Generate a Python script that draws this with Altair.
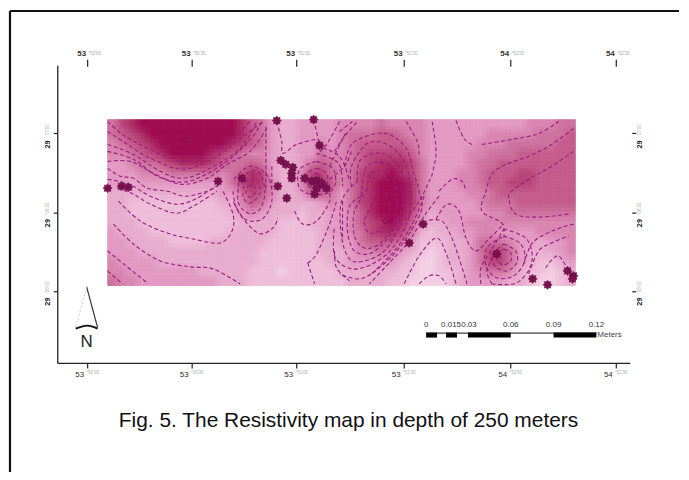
import altair as alt
import pandas as pd

LEVEL_ROWS = [
 "578" "9999999999" "8653" "22" "3333" "4444" "5" "4444" "3333333333" "444" "55",
 "5678" "999999999" "8653" "22" "3333" "4" "555" "66" "5" "44" "333333" "44444" "555" "6",
 "45678" "9999999" "87" "65" "322" "33" "4" "345" "66666" "54" "33333" "444" "55555" "66",
 "445678" "9999" "8765" "44322" "33" "544" "56" "7777" "64" "3333" "44" "555" "666666",
 "334556" "78887" "6556" "53223" "56545" "678887" "53333" "455" "66666666",
 "333444" "55555" "456" "87" "3224" "77545" "788987" "5333" "445" "666" "77" "6666",
 "332" "333333333" "5" "787" "4224" "78645" "789998" "5333" "445" "66" "777" "6666",
 "22222222222" "33" "576" "4223" "66535" "789998" "53333" "445" "66666666",
 "22" "111111111" "22" "465" "32222" "3435" "789998" "533333" "4555" "666666",
 "22" "1111111111" "2343222" "1" "22334" "689997" "4233333" "44" "5555555",
 "222" "1111111111" "2222" "111" "22334" "678986" "32233" "44444444444",
 "3222" "11111111" "22222" "1111" "2334" "578875" "2122" "33" "44" "3333" "4444",
 "332222" "1111" "222222" "11111" "2233" "566653" "111223" "5554" "332334",
 "333" "222222222222" "111111" "2223" "445432" "101223" "5775" "322234",
 "43333" "2222222222" "1111111" "223" "333321" "001223" "5775" "321123",
 "44" "3333333" "22222" "1110" "11111" "222222" "11" "001123" "4554" "211012",
 "544" "33333333" "222" "1111111111" "2222" "11" "0000" "12" "3333" "2210012",
]
MAP_X0, MAP_X1, MAP_Y0, MAP_Y1 = 107.0, 577.0, 118.0, 285.0

CONTOURS = [
 [(345,165),(352,143),(373,133),(390,133),(407,147),(415,173),(420,190),(422,210),(403,243),(380,267),(360,278),(340,273)],
 [(358,180),(360,160),(375,152),(390,155),(402,170),(405,195),(400,225),(385,250),(365,260),(350,258),(342,235),(342,200),(358,180)],
 [(367,190),(372,172),(385,170),(395,180),(398,200),(393,225),(380,243),(365,247),(355,235),(355,210),(367,190)],
 [(372,205),(380,190),(388,195),(390,212),(382,228),(370,232),(365,220),(372,205)],
 [(352,185),(352,165),(368,142),(388,143),(405,160),(411,185),(410,215),(395,245),(375,262),(352,268),(335,255),(335,225)],
 [(362,195),(366,167),(380,161),(395,168),(402,185),(402,210),(390,235),(372,252),(355,250),(348,230),(350,205),(362,195)],
 [(425,195),(412,225),(395,250),(370,275)], [(440,195),(425,215),(410,240),(390,262),(370,283)],
 [(340,130),(353,120)], [(335,150),(345,135),(358,120)], [(330,165),(338,148),(347,130)],
 [(407,120),(418,140),(420,153)],
 [(433,120),(437,150),(433,173),(430,180),(420,200),(403,223),(390,240)],
 [(457,119),(465,137),(473,143)], [(483,143),(513,138),(540,132),(560,120)],
 [(575,127),(553,143),(530,155),(507,163),(493,173),(487,190),(483,210),(503,222),(505,237)],
 [(575,150),(553,165),(530,178),(513,190),(510,197),(517,213),(540,216),(570,213)],
 [(440,190),(453,178),(463,180),(467,190)],
 [(437,218),(448,203),(460,210),(467,237),(477,250),(490,238),(505,223)],
 [(430,219),(443,220),(452,235),(460,257),(468,283)],
 [(405,283),(420,255),(437,237),(447,252),(457,283)],
 [(420,283),(430,275),(440,275),(447,283)],
 [(505,243),(517,250),(518,262),(508,270),(497,266),(493,255),(505,243)],
 [(505,235),(522,243),(526,260),(515,275),(498,277),(487,265),(488,247),(505,235)],
 [(505,248),(512,252),(512,260),(505,264),(499,260),(499,252),(505,248)],
 [(505,228),(528,238),(533,262),(518,282),(493,283)],
 [(482,283),(482,267),(492,250),(505,228)], [(493,283),(488,270),(495,255)],
 [(525,263),(533,243),(547,233),(567,225),(577,223)],
 [(530,273),(540,250),(553,242),(570,235)],
 [(547,267),(560,255),(573,277)],
 [(107,120),(125,135),(150,148),(183,160),(213,150),(235,135),(250,120)],
 [(107,130),(127,143),(150,157),(183,168),(213,157),(237,140),(263,120)],
 [(107,143),(133,153),(160,170),(183,177),(210,167),(240,147),(257,120)],
 [(107,150),(133,158),(157,175),(183,181),(208,172),(233,155),(253,135),(262,120)],
 [(107,160),(130,160),(153,172),(180,183),(207,177),(227,163),(250,150),(267,127)],
 [(107,167),(120,175),(133,177),(147,187),(167,190),(185,195),(207,190),(220,183)],
 [(107,178),(118,180),(133,185),(150,195),(175,203),(195,198),(215,185)],
 [(117,187),(133,193),(150,203),(175,212),(193,205),(217,190)],
 [(118,200),(140,220),(167,232),(193,238),(220,242),(232,230),(233,213),(223,190)],
 [(113,223),(133,243),(160,260),(190,266),(213,268),(240,283)],
 [(107,250),(123,263),(148,283)], [(107,270),(122,283)],
 [(233,190),(238,210),(258,232),(273,227),(278,217)],
 [(240,175),(258,170),(265,190),(260,208),(248,212),(238,200),(240,175)],
 [(245,180),(257,178),(260,192),(250,202),(243,195),(245,180)],
 [(248,185),(254,184),(255,192),(250,196),(246,192),(248,185)],
 [(234,178),(250,165),(268,175),(272,200),(262,218),(245,218),(233,200)],
 [(266,125),(266,190)], [(272,165),(272,190)],
 [(277,120),(282,140),(283,152),(297,143),(317,138),(320,143)], [(314,118),(320,143)],
 [(340,120),(327,143),(317,153)],
 [(317,172),(322,176),(322,182),(317,184),(312,182),(312,176),(317,172)],
 [(317,167),(327,172),(327,183),(317,187),(307,183),(307,172),(317,167)],
 [(317,160),(334,168),(334,187),(317,194),(300,187),(300,168),(317,160)],
 [(317,152),(339,162),(343,185)], [(317,145),(340,155),(350,180)], [(330,178),(345,165),(352,150)],
 [(295,210),(303,223),(317,220),(330,200),(328,187)],
 [(308,262),(317,253),(330,223),(337,200)], [(308,262),(315,283)],
 [(335,250),(337,267),(350,280)], [(343,200),(343,240)],
]

WELL_X = [107,121,128,218,242,277,314,320,281,286,293,292,292,278,287,305,312,317,322,327,317,315,424,410,498,534,549,569,575,574]
WELL_Y = [187,185,186,180,177,119,118,144,159,163,166,172,177,185,197,177,180,179,182,187,187,193,223,242,253,278,284,270,275,278]
OPEN_X = [185,386]
OPEN_Y = [138,220]

TOP_X = [87,192,297,405,512,618]
TOP_LABELS = ["53","53","53","53","54","54"]
MIN_LABELS = ["°50'00","°50'30","°51'00","°51'30","°52'00","°52'30"]
SIDE_Y = [132,212,291]
SIDE_DARK_Y = [143,222,301]
SIDE_LABELS = ["29","29","29"]
SIDE_FAINT = ["°07'00","°06'30","°06'00"]
SCALE_TICKS = ["0","0.015","0.03","0.06","0.09","0.12"]
SCALE_X = [427,452,470,512,555,598]
BAR_X0 = [427,447,469,555]
BAR_X1 = [438,458,512,598]
STAR = "M0,-1L.3,-.62L.72,-.72L.62,-.3L1,0L.62,.3L.72,.72L.3,.62L0,1L-.3,.62L-.72,.72L-.62,.3L-1,0L-.62,-.3L-.72,-.72L-.3,-.62Z"

X = alt.Scale(domain=[8,681], nice=False, zero=False)
Y = alt.Scale(domain=[472,8], nice=False, zero=False)
ex = alt.X("x:Q", scale=X, axis=None)
ey = alt.Y("y:Q", scale=Y, axis=None)
ex2 = alt.X2("x2:Q"); ey2 = alt.Y2("y2:Q")

rows, cols = len(LEVEL_ROWS), max(len(r) for r in LEVEL_ROWS)
dx, dy = (MAP_X1-MAP_X0)/cols, (MAP_Y1-MAP_Y0)/rows
col = alt.Color("v:Q", legend=None, scale=alt.Scale(domain=[0,3,6,9],
        range=["#f6d2e6","#e49dc4","#c65f8e","#a30f55"]))
heat = []
n = 0
for fy in (-1/3, 0, 1/3):
    for fx in (-1/3, 0, 1/3):
        n += 1
        recs = []
        for r, row in enumerate(LEVEL_ROWS):
            for c, ch in enumerate(row):
                x, y = MAP_X0+c*dx+fx*dx, MAP_Y0+r*dy+fy*dy
                recs.append(dict(x=MAP_X0 if c == 0 else x, x2=MAP_X1 if c == cols-1 else x+dx+.3,
                                 y=MAP_Y0 if r == 0 else y, y2=MAP_Y1 if r == rows-1 else y+dy+.3, v=int(ch)))
        heat.append(alt.Chart(alt.Data(values=recs)).mark_rect(strokeWidth=0, opacity=1/n).encode(
            x=ex, x2=ex2, y=ey, y2=ey2, color=col))

cont = pd.DataFrame([dict(id=i,o=j,x=p[0],y=p[1]) for i,c in enumerate(CONTOURS) for j,p in enumerate(c)])
contours = alt.Chart(cont).mark_line(color="#9c1a84",strokeWidth=1.1,strokeDash=[4,2.5],interpolate="cardinal").encode(
    x=ex,y=ey,detail="id:N",order="o:Q")

wells = alt.Chart(pd.DataFrame(dict(x=WELL_X,y=WELL_Y))).mark_point(shape=STAR,filled=True,size=85,color="#7a1050",opacity=1,stroke="#5e0c40",strokeWidth=.5).encode(x=ex,y=ey)
opens = alt.Chart(pd.DataFrame(dict(x=OPEN_X,y=OPEN_Y))).mark_point(shape="diamond",size=36,color="#6e1245",opacity=1,strokeWidth=.8).encode(x=ex,y=ey)

def segs(items, width=1.3, color="#111111", dash=None):
    kw = dict(color=color, strokeWidth=width)
    if dash: kw["strokeDash"] = dash
    return alt.Chart(pd.DataFrame(items, columns=["x","y","x2","y2"])).mark_rule(**kw).encode(x=ex,x2=ex2,y=ey,y2=ey2)

frame = segs([(9,9,9,472),(9,9,681,9)], 2.2)
axes = segs([(57,64,57,363),(57,363,632,363)], 1.3, "#222222")
ticks = segs([(x,58,x,65) for x in TOP_X]+[(x,363,x,368) for x in TOP_X]
             +[(53,y,57,y) for y in SIDE_Y]+[(634,y,638,y) for y in SIDE_Y], 1.2, "#222222")

def texts(df, **kw):
    return alt.Chart(pd.DataFrame(df)).mark_text(**kw).encode(x=ex,y=ey,text="t:N")

F = "Liberation Sans"
t_top = texts(dict(x=[v-6 for v in TOP_X],y=[52.5]*6,t=TOP_LABELS),fontSize=8,font=F,fontWeight="bold",color="#333333",align="center")
f_top = texts(dict(x=[v+7 for v in TOP_X],y=[52.5]*6,t=MIN_LABELS),fontSize=4.5,font=F,color="#aaaaaa",align="center")
t_bot = texts(dict(x=[v-8 for v in TOP_X],y=[375]*6,t=TOP_LABELS),fontSize=8,font=F,color="#333333",align="center")
f_bot = texts(dict(x=[v+5 for v in TOP_X],y=[372.5]*6,t=MIN_LABELS),fontSize=4.5,font=F,color="#aaaaaa",align="center")
t_l = texts(dict(x=[47]*3,y=SIDE_DARK_Y,t=SIDE_LABELS),fontSize=7.5,font=F,fontWeight="bold",color="#222233",angle=270,align="center")
f_l = texts(dict(x=[47]*3,y=[v-14 for v in SIDE_DARK_Y],t=SIDE_FAINT),fontSize=4.5,font=F,color="#aaaaaa",angle=270,align="center")
t_r = texts(dict(x=[642]*3,y=SIDE_DARK_Y,t=SIDE_LABELS),fontSize=7.5,font=F,fontWeight="bold",color="#222233",angle=270,align="center")
f_r = texts(dict(x=[642]*3,y=[v-14 for v in SIDE_DARK_Y],t=SIDE_FAINT),fontSize=4.5,font=F,color="#aaaaaa",angle=270,align="center")

caption = texts(dict(x=[349],y=[421],t=["Fig. 5. The Resistivity map in depth of 250 meters"]),fontSize=21,font=F,color="#111111",align="center")

bars = alt.Chart(pd.DataFrame(dict(x=BAR_X0,x2=BAR_X1,y=[332]*4,y2=[337]*4))).mark_rect(color="#000000").encode(x=ex,x2=ex2,y=ey,y2=ey2)
barline = segs([(427,332.5,598,332.5)],1,"#111111")
bar_txt = texts(dict(x=SCALE_X,y=[324.5]*6,t=SCALE_TICKS),fontSize=8,font=F,color="#333333",align="center")
meters = texts(dict(x=[599],y=[334],t=["Meters"]),fontSize=8,font=F,color="#444444",align="left")

arrow_r = segs([(86,286,97,327)],1.2,"#333333")
arrow_l = segs([(86,286,75,327)],.8,"#bbbbbb",[2,2])
arrow_base = alt.Chart(pd.DataFrame(dict(x=[75,81,86,92,97],y=[328,326,325,326,328],o=range(5)))).mark_line(color="#111111",strokeWidth=2,interpolate="monotone").encode(x=ex,y=ey,order="o:Q")
north = texts(dict(x=[86],y=[341],t=["N"]),fontSize=17,font=F,color="#222222",align="center")

chart = alt.layer(*heat,contours,wells,opens,frame,axes,ticks,t_top,f_top,t_bot,f_bot,t_l,f_l,t_r,f_r,
                  caption,bars,barline,bar_txt,meters,arrow_r,arrow_l,arrow_base,north).properties(
    width=673,height=464,padding=0,background="white"
).configure_view(stroke=None)
chart.save("out.html", embed_options={"renderer":"svg","actions":False})
